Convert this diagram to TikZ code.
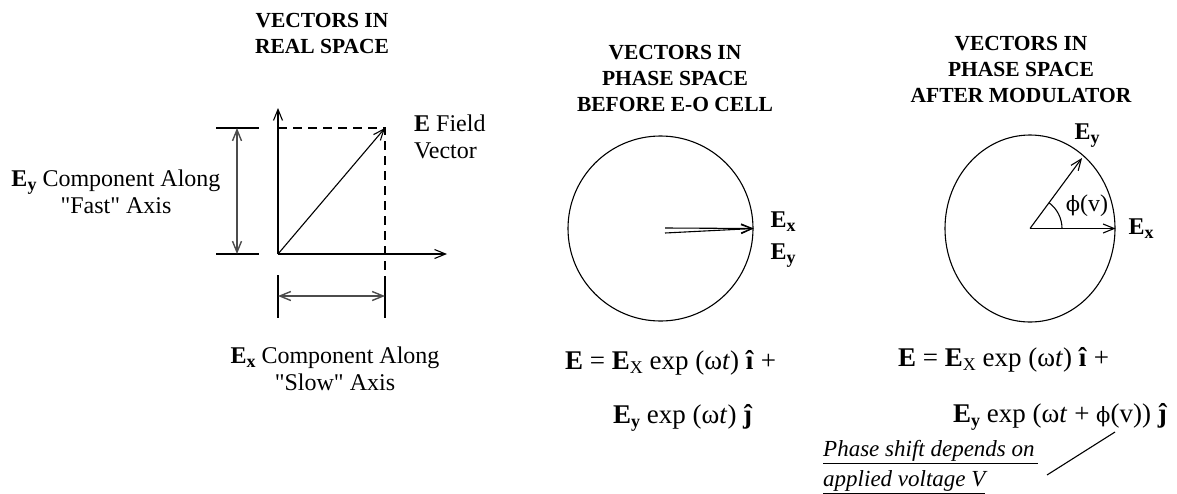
\documentclass[tikz,border=0pt]{standalone}
\usepackage{fontspec}
\setmainfont{Liberation Serif}
\newfontfamily\phifont{DejaVu Serif}
\usetikzlibrary{arrows.meta,shapes.geometric}
\newcommand\lsub[1]{\raisebox{-0.35ex}{\fontsize{18}{18}\selectfont #1}}
\newcommand\myphi{{\phifont\fontsize{21}{21}\selectfont ϕ}}
\begin{document}
\begin{tikzpicture}[x=1pt,y=-1pt,
 arr/.style={-{Straight Barb[length=11pt,width=9pt]}},
 dimarr/.style={{Straight Barb[length=11pt,width=9pt]}-{Straight Barb[length=11pt,width=9pt]}, line width=1.4pt, black!70},
 ln/.style={line width=1.1pt},
 dash1/.style={line width=1.1pt, dash pattern=on 9pt off 6pt},
 title/.style={font=\fontsize{21.5}{26}\selectfont\bfseries, align=center, inner sep=0},
 body/.style={font=\fontsize{24}{27}\selectfont, inner sep=0},
 bodyb/.style={font=\fontsize{24}{27}\selectfont\bfseries, inner sep=0},
 eq/.style={font=\fontsize{27}{30}\selectfont, inner sep=0, anchor=west},
]
\useasboundingbox (0,0) rectangle (1177,493);

% ---------- left panel ----------
\node[title] (t1) at (322,33) {VECTORS IN\\REAL SPACE};
\coordinate (O) at (278,254);
\coordinate (Ytop) at (278,108);
\coordinate (Xend) at (447,254);
\coordinate (P) at (385,128);
\coordinate (Yd) at (278,128);
\coordinate (Pd) at (385,280);
\draw[dash1] (Yd) -- (P) -- (Pd);
\draw[ln,arr] (O) -- (Ytop);
\draw[ln,arr] (O) -- (Xend);
\draw[ln,arr] (O) -- (P);

\coordinate (ta1) at (216,128); \coordinate (ta2) at (259,128);
\coordinate (tb1) at (216,254); \coordinate (tb2) at (259,254);
\draw[ln] (ta1) -- (ta2);
\draw[ln] (tb1) -- (tb2);
\coordinate (da1) at (237,128); \coordinate (da2) at (237,254);
\draw[dimarr] (da1) -- (da2);

\coordinate (tc1) at (278,275); \coordinate (tc2) at (278,318);
\coordinate (td1) at (385,280); \coordinate (td2) at (385,318);
\draw[ln] (tc1) -- (tc2);
\draw[ln] (td1) -- (td2);
\coordinate (db1) at (278,296); \coordinate (db2) at (385,296);
\draw[dimarr] (db1) -- (db2);

\node[body, align=left, anchor=west] (ef) at (414,137) {\textbf{E} Field\\Vector};
\node[body, align=center] (ey) at (116,192) {\textbf{E}\lsub{\textbf{y}} Component Along\\\textquotedbl Fast\textquotedbl{} Axis};
\node[body, align=center] (ex) at (335,369) {\textbf{E}\lsub{\textbf{x}} Component Along\\\textquotedbl Slow\textquotedbl{} Axis};

% ---------- middle panel ----------
\node[title] (t2) at (675,78) {VECTORS IN\\PHASE SPACE\\BEFORE E-O CELL};
\node[circle, draw, ln, minimum size=185pt, inner sep=0] (C1) at (660.5,228.5) {};
\coordinate (m1) at (665,228);
\coordinate (m2) at (665,233);
\draw[ln,arr] (m1) -- (C1.east);
\draw[ln,arr] (m2) -- (C1.east);
\node[bodyb] (mex) at (783,222) {E\lsub{x}};
\node[bodyb] (mey) at (783,256) {E\lsub{y}};

% ---------- right panel ----------
\node[title] (t3) at (1021,69) {VECTORS IN\\PHASE SPACE\\AFTER MODULATOR};
\node[ellipse, draw, ln, minimum width=170pt, minimum height=187pt, inner sep=0] (C2) at (1030,228.5) {};
\coordinate (Q) at (1082,158);
\draw[ln,arr] (C2.center) -- (Q);
\draw[ln,arr] (C2.center) -- (C2.east);
\draw[ln] ([xshift=32pt]C2.center) arc[start angle=0, end angle=-54, radius=32];
\node[bodyb] (rey) at (1087,136) {E\lsub{y}};
\node[body] (phi) at (1087,206) {\myphi(v)};
\node[bodyb] (rex) at (1141,229) {E\lsub{x}};

% ---------- equations ----------
\node[eq] (e1a) at (565,363) {\textbf{E} = \textbf{E}\lsub{X} exp (ω\textit{t}) \textbf{î} +};
\node[eq] (e1b) at (613,418) {\textbf{E}\lsub{\textbf{y}} exp (ω\textit{t}) \textbf{ĵ}};
\node[eq] (e2a) at (898,360) {\textbf{E} = \textbf{E}\lsub{X} exp (ω\textit{t}) \textbf{î} +};
\node[eq] (e2b) at (953,417) {\textbf{E}\lsub{\textbf{y}} exp (ω\textit{t} + \myphi(v)) \textbf{ĵ}};

\node[body, font=\fontsize{23}{27}\selectfont\itshape, anchor=west] (ps1) at (823,452) {\underline{Phase shift depends on\,}};
\node[body, font=\fontsize{23}{27}\selectfont\itshape, anchor=west] (ps2) at (823,482) {\underline{applied voltage V}};
\coordinate (pl1) at (1047,475);
\coordinate (pl2) at (1115,432);
\draw[ln] (pl1) -- (pl2);
\end{tikzpicture}
\end{document}
